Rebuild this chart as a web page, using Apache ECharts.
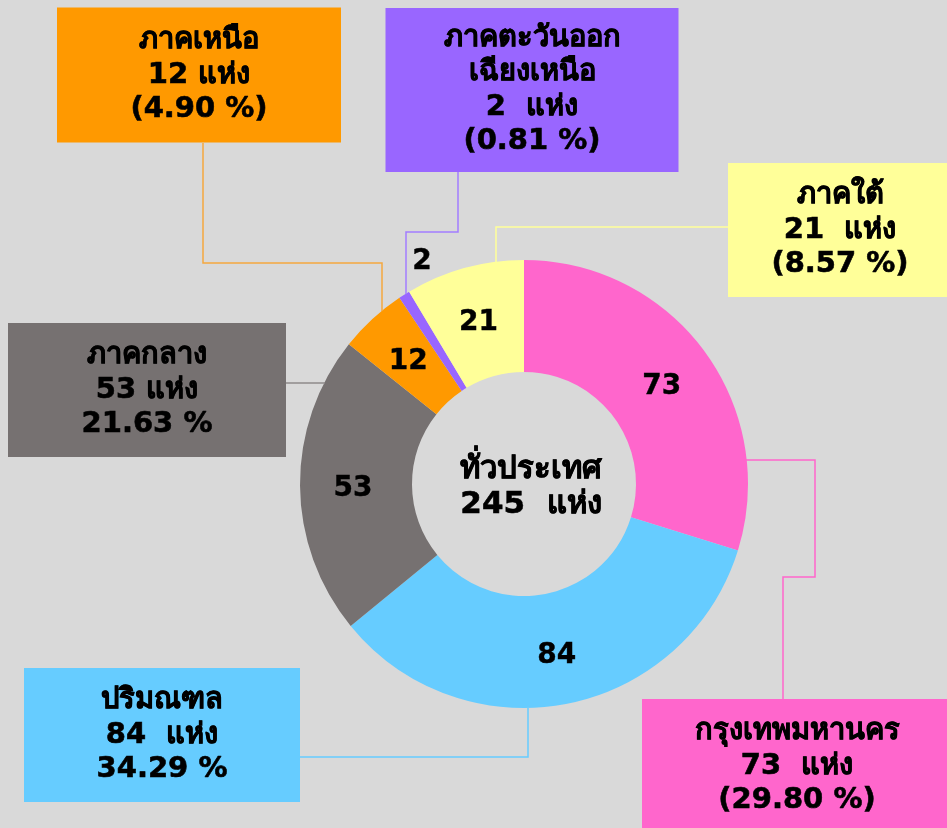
<!DOCTYPE html>
<html><head><meta charset="utf-8">
<script src="https://cdn.jsdelivr.net/npm/echarts@6/dist/echarts.min.js"></script>
<style>html,body{margin:0;padding:0;background:#D9D9D9}#c{width:947px;height:828px}</style>
</head><body><div id="c"></div>
<script>
const regions = ['กรุงเทพมหานคร', 'ปริมณฑล', 'ภาคกลาง', 'ภาคเหนือ', 'ภาคตะวันออก\nเฉียงเหนือ', 'ภาคใต้'];
const counts = [73, 84, 53, 12, 2, 21];
const percents = ['29.80', '34.29', '21.63', '4.90', '0.81', '8.57'];
const unitSpacing = ['  ', '  ', ' ', ' ', '  ', '  '];
const percentInParens = [true, false, false, true, true, true];
const totalLabel = 'ทั่วประเทศ';
const unit = 'แห่ง';

const colors = ['#FF66CC', '#66CCFF', '#767171', '#FF9900', '#9966FF', '#FFFF99'];
const lineColors = ['#FF66CC', '#66CCFF', '#8E8A8A', '#F5A83F', '#A27DFF', '#FFFF99'];
const FONT = 'Tahoma, "DejaVu Sans", sans-serif';

// box layout: center x, center y, width, height
const boxes = [
  {x: 797, y: 766, w: 310, h: 134},
  {x: 162, y: 735, w: 276, h: 134},
  {x: 147, y: 390, w: 278, h: 134},
  {x: 199, y: 75, w: 284, h: 135},
  {x: 532, y: 90, w: 293, h: 164},
  {x: 840, y: 230, w: 224, h: 134}
];
const guides = [
  [[746, 460], [815, 460], [815, 577], [783, 577], [783, 699]],
  [[528, 708], [528, 757], [300, 757]],
  [[325, 383], [286, 383]],
  [[382, 311], [382, 263], [203, 263], [203, 143]],
  [[406, 294], [406, 232], [458, 232], [458, 172]],
  [[496, 262], [496, 227], [728, 227]]
];

const total = counts.reduce((a, b) => a + b, 0);

function boxText(i) {
  const p = percents[i] + ' %';
  return regions[i] + '\n' + counts[i] + unitSpacing[i] + unit + '\n' + (percentInParens[i] ? '(' + p + ')' : p);
}

const ringData = counts.map((v, i) => ({value: v, name: regions[i], itemStyle: {color: colors[i]}}));
const calloutData = counts.map((v, i) => ({
  value: v, name: regions[i],
  itemStyle: {color: 'transparent'},
  label: {backgroundColor: colors[i], width: boxes[i].w, height: boxes[i].h},
  labelLine: {lineStyle: {color: lineColors[i], width: 1.5}}
}));

const chart = echarts.init(document.getElementById('c'), null, {renderer: 'canvas'});
chart.setOption({
  backgroundColor: '#D9D9D9',
  animation: false,
  title: {
    text: totalLabel + '\n' + total + '  ' + unit,
    left: 526, top: 447, textAlign: 'center',
    textStyle: {fontFamily: FONT, fontWeight: 'bold', fontSize: 31, lineHeight: 35, color: '#000',
      textBorderColor: '#000', textBorderWidth: 0.6}
  },
  series: [
    {
      type: 'pie', center: [524, 484], radius: [112, 224], startAngle: 90, clockwise: true,
      silent: true, avoidLabelOverlap: false,
      data: ringData,
      label: {show: true, position: 'inside', formatter: '{c}', color: '#000', fontFamily: FONT, fontWeight: 'bold', fontSize: 28,
        textBorderColor: '#000', textBorderWidth: 0.4},
      labelLine: {show: false},
      labelLayout: function (p) {
        if (p.dataIndex === 4) return {x: 422, y: 262, align: 'center', verticalAlign: 'middle'};
        return {dy: 4};
      }
    },
    {
      type: 'pie', center: [524, 484], radius: [112, 224], startAngle: 90, clockwise: true,
      silent: true, avoidLabelOverlap: false, z: 3,
      data: calloutData,
      label: {
        show: true, position: 'outside', color: '#000', fontFamily: FONT, fontWeight: 'bold',
        fontSize: 29, lineHeight: 34.5, align: 'center', verticalAlign: 'middle',
        textBorderColor: '#000', textBorderWidth: 0.6,
        formatter: p => boxText(p.dataIndex)
      },
      labelLine: {show: true, smooth: false, length: 10, length2: 10},
      labelLayout: function (p) {
        const b = boxes[p.dataIndex];
        return {x: b.x, y: b.y, align: 'center', verticalAlign: 'middle', labelLinePoints: guides[p.dataIndex]};
      }
    }
  ]
});
</script></body></html>
